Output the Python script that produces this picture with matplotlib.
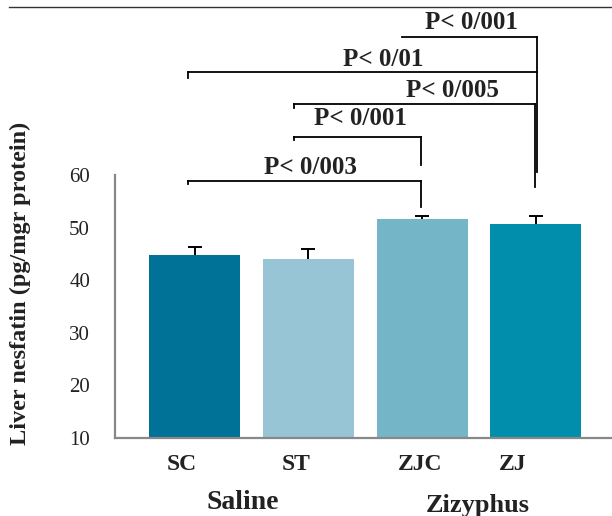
import matplotlib
matplotlib.use("Agg")
import matplotlib.pyplot as plt
from matplotlib.lines import Line2D

# data
groups = ['SC', 'ST', 'ZJC', 'ZJ']
means = [44.8, 44.0, 51.6, 50.7]
errors = [1.5, 2.0, 0.6, 1.5]
bar_colors = ['#007298', '#97c5d5', '#74b5c8', '#008eac']
yticks = [10, 20, 30, 40, 50, 60]
p_labels = ['P< 0/003', 'P< 0/001', 'P< 0/005', 'P< 0/01', 'P< 0/001']
treatments = ['Saline', 'Zizyphus']

plt.rcParams['font.family'] = ['Liberation Serif', 'DejaVu Serif']

fig = plt.figure(figsize=(6.12, 5.16), dpi=100)
ax = fig.add_axes([115/612, 1-438/516, 497/612, 263/516])

x = range(len(groups))
# error bars behind the bars so only the upper half shows
ax.errorbar(x, means, yerr=errors, fmt='none', ecolor='black',
            elinewidth=1.4, capsize=5, capthick=1.4, zorder=1)
ax.bar(x, means, width=0.8, color=bar_colors, zorder=2)

ax.set_ylim(10, 60)
ax.set_xlim(-0.7, 3.67)
ax.set_yticks(yticks)
ax.set_yticklabels([str(t) for t in yticks], fontsize=15, color='#222222')
ax.tick_params(axis='y', length=0, pad=18)
ax.set_xticks([])
for s in ['top', 'right']:
    ax.spines[s].set_visible(False)
for s in ['left', 'bottom']:
    ax.spines[s].set_color('#888888')
    ax.spines[s].set_linewidth(1.6)
    ax.spines[s].set_zorder(3)

# category labels (slightly left of bar centres like in the original)
label_dx = [-0.11, -0.11, -0.02, -0.2]
for i, g in enumerate(groups):
    ax.text(i + label_dx[i], 5.0, g, ha='center', va='center',
            fontsize=17, fontweight='bold', color='#222222')
ax.text(0.42, -2.3, treatments[0], ha='center', va='center',
        fontsize=20, fontweight='bold', color='#222222')
ax.text(2.49, -2.8, treatments[1], ha='center', va='center',
        fontsize=19, fontweight='bold', color='#222222')

fig.text(20/612, 1-283/516, 'Liver nesfatin (pg/mgr protein)', rotation=90,
         ha='center', va='center', fontsize=17.5, fontweight='bold', color='#222222')

# significance brackets: x1, x2, y, left drop, right drop, label, text x, text y
brackets = [
    (-0.06, 1.99, 58.86, 58.3, 53.9, p_labels[0], 1.02, 61.5),
    (0.87, 1.99, 67.2, 66.7, 61.9, p_labels[1], 1.46, 70.8),
    (0.87, 2.99, 73.5, 72.7, 57.7, p_labels[2], 2.27, 76.0),
    (-0.06, 3.01, 79.6, 78.4, None, p_labels[3], 1.66, 81.9),
    (1.82, 3.01, 86.3, None, 60.6, p_labels[4], 2.43, 88.9),
]
for x1, x2, y, yl, yr, lab, tx, ty in brackets:
    ax.plot([x1, x2], [y, y], color='black', lw=1.3, clip_on=False)
    if yl is not None:
        ax.plot([x1, x1], [y, yl], color='black', lw=1.3, clip_on=False)
    if yr is not None:
        ax.plot([x2, x2], [y, yr], color='black', lw=1.3, clip_on=False)
    ax.text(tx, ty, lab, ha='center', va='center', fontsize=18,
            fontweight='bold', color='#222222', clip_on=False)

fig.add_artist(Line2D([9/612, 1], [1-7/516, 1-7/516], color='#333333', lw=1.0))

fig.savefig('out.png', dpi=100)
